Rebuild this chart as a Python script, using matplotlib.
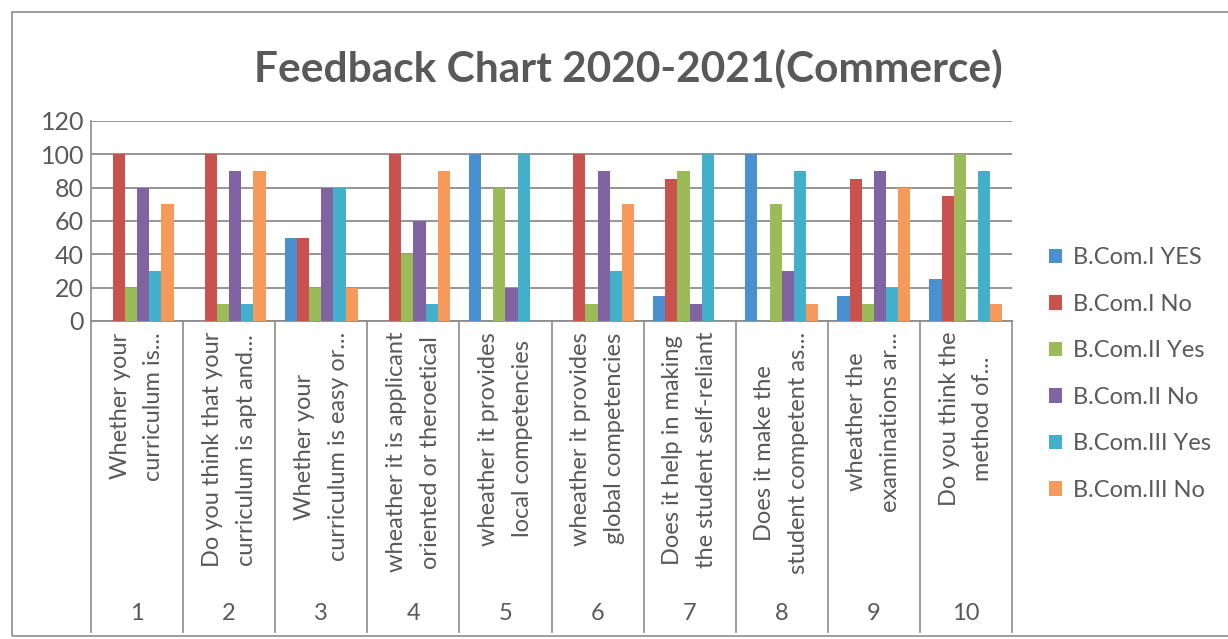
import numpy as np
import matplotlib.pyplot as plt
from matplotlib.patches import Rectangle

plt.rcParams['font.family'] = ['Lato', 'DejaVu Sans']

# questions (category axis, two levels)
numbers = ['1', '2', '3', '4', '5', '6', '7', '8', '9', '10']
questions = ['Whether your\ncurriculum is...',
             'Do you think that your\ncurriculum is apt and...',
             'Whether your\ncurriculum is easy or...',
             'wheather it is applicant\noriented or theroetical',
             'wheather it provides\nlocal competencies',
             'wheather it provides\nglobal competencies',
             'Does it help in making\nthe student self-reliant',
             'Does it make the\nstudent competent as...',
             'wheather the\nexaminations ar...',
             'Do you think the\nmethod of...']

series = ['B.Com.I YES', 'B.Com.I No', 'B.Com.II Yes',
          'B.Com.II No', 'B.Com.III Yes', 'B.Com.III No']
bcom1_yes = [0, 0, 50, 0, 100, 0, 15, 100, 15, 25]
bcom1_no = [100, 100, 50, 100, 0, 100, 85, 0, 85, 75]
bcom2_yes = [20, 10, 20, 40, 80, 10, 90, 70, 10, 100]
bcom2_no = [80, 90, 80, 60, 20, 90, 10, 30, 90, 0]
bcom3_yes = [30, 10, 80, 10, 100, 30, 100, 90, 20, 90]
bcom3_no = [70, 90, 20, 90, 0, 70, 0, 10, 80, 10]
colors = ['#4a8fcf', '#c9524f', '#9bbb59', '#8064a2', '#44afcb', '#f59a5a']

values = [bcom1_yes, bcom1_no, bcom2_yes, bcom2_no, bcom3_yes, bcom3_no]

fig = plt.figure(figsize=(12.28, 6.39), dpi=100)
W, H = 1228, 639
x0, x1, ytop, ybot = 91, 1012, 121, 321
ax = fig.add_axes([x0 / W, 1 - ybot / H, (x1 - x0) / W, (ybot - ytop) / H])

grey = '#8c8c8c'
txt = '#595959'
n = len(numbers)
idx = np.arange(n)
bw = 0.132
for k, (name, vals) in enumerate(zip(series, values)):
    ax.bar(idx + (k - 2.5) * bw, vals, bw, color=colors[k], label=name, zorder=3)

ax.set_xlim(-0.5, n - 0.5)
ax.set_ylim(0, 120)
ax.set_yticks(range(0, 121, 20))
ax.yaxis.grid(True, color=grey, lw=1.3, zorder=0)
for s in ['top', 'right', 'left']:
    ax.spines[s].set_visible(False)
ax.spines['bottom'].set_color(grey)
ax.spines['bottom'].set_linewidth(1.3)
ax.tick_params(axis='y', length=0, labelsize=18, labelcolor=txt, pad=5)
ax.set_xticks([])

# multi-level category axis below the plot
axh = (ybot - ytop) / H
def fy(py):
    return (1 - py / H - (1 - ybot / H)) / axh
for b in np.arange(-0.5, n, 1.0):
    ax.plot([b, b], [0, fy(632)], transform=ax.get_xaxis_transform(),
            color=grey, lw=1.2, clip_on=False)
ax.plot([-0.5, -0.5], [0, 1], transform=ax.get_xaxis_transform(),
        color=grey, lw=1.2, clip_on=False)
for i in range(n):
    ax.text(i, fy(332), questions[i], transform=ax.get_xaxis_transform(),
            rotation=90, ha='center', va='top', multialignment='center',
            fontsize=17, color=txt, linespacing=1.75)
    ax.text(i, fy(614), numbers[i], transform=ax.get_xaxis_transform(),
            ha='center', va='center', fontsize=17, color=txt)

fig.text(628 / W, 1 - 68 / H, 'Feedback Chart 2020-2021(Commerce)',
         ha='center', va='center', fontsize=30.5, fontweight='bold', color=txt)

leg = fig.legend(loc='upper left', bbox_to_anchor=(1028 / W, 1 - 226 / H),
                 frameon=False, fontsize=17, labelcolor=txt, handlelength=0.55,
                 handleheight=0.55, handletextpad=0.45, labelspacing=1.08)

# outer chart border
fig.patches.append(Rectangle((12 / W, 0.004), 1.2, 1 - 12 / H - 0.004,
                             transform=fig.transFigure, fill=False,
                             edgecolor=grey, lw=1.2))

fig.savefig('out.png', dpi=100)
